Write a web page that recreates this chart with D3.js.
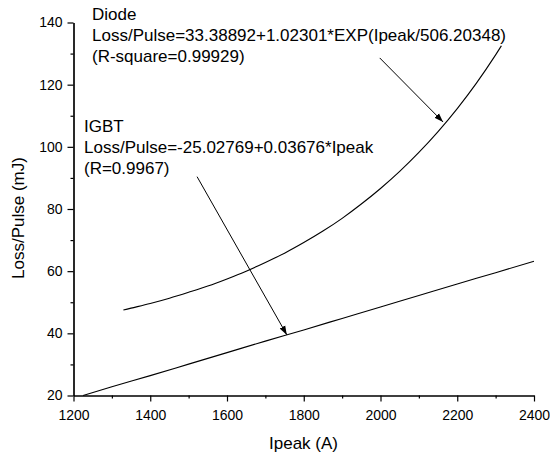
<!DOCTYPE html>
<html>
<head>
<meta charset="utf-8">
<script src="https://cdn.jsdelivr.net/npm/d3@7"></script>
<style>
  body { margin: 0; background: #fff; }
  text { font-family: "Liberation Sans", Arial, sans-serif; }
</style>
</head>
<body>
<svg id="chart" width="550" height="457"></svg>
<script>
// values
var diodeI    = [1330, 1350, 1400, 1450, 1500, 1550, 1600, 1650, 1700, 1750, 1800, 1850, 1900, 1950, 2000, 2050, 2100, 2150, 2200, 2250, 2300, 2315];
var diodeLoss = [47.5, 48.1, 49.6, 51.3, 53.2, 55.2, 57.5, 60.0, 62.8, 65.8, 69.2, 72.9, 77.0, 81.6, 86.6, 92.1, 98.2, 104.9, 112.3, 120.5, 129.6, 132.5];
var igbtI     = [1225, 1300, 1400, 1500, 1600, 1700, 1800, 1900, 2000, 2100, 2200, 2300, 2400];
var igbtLoss  = [20.0, 22.8, 26.4, 30.1, 33.8, 37.5, 41.1, 44.8, 48.5, 52.2, 55.9, 59.5, 63.2];
var xTicks = [1200, 1400, 1600, 1800, 2000, 2200, 2400];
var xMinor = [1300, 1500, 1700, 1900, 2100, 2300];
var yTicks = [20, 40, 60, 80, 100, 120, 140];
var yMinor = [30, 50, 70, 90, 110, 130];

var diodeText = ["Diode", "Loss/Pulse=33.38892+1.02301*EXP(Ipeak/506.20348)", "(R-square=0.99929)"];
var igbtText  = ["IGBT", "Loss/Pulse=-25.02769+0.03676*Ipeak", "(R=0.9967)"];
// arrows: [I start, loss start, I end, loss end]
var diodeArrow = [1998, 128.6, 2163, 108.0];
var igbtArrow  = [1522, 90.4, 1756, 39.5];

var svg = d3.select("#chart");
var x = d3.scaleLinear().domain([1200, 2400]).range([73.5, 534]);
var y = d3.scaleLinear().domain([20, 140]).range([395.5, 22.5]);

svg.append("defs").append("marker")
  .attr("id", "head")
  .attr("viewBox", "0 0 10 10")
  .attr("refX", 10).attr("refY", 5)
  .attr("markerWidth", 9).attr("markerHeight", 9)
  .attr("markerUnits", "userSpaceOnUse")
  .attr("orient", "auto")
  .append("path").attr("d", "M0,1.5 L10,5 L0,8.5 Z").attr("fill", "#000");

// axes
svg.append("g").attr("transform", "translate(0,395.5)")
  .call(d3.axisBottom(x).tickValues(xTicks).tickFormat(d3.format("d")).tickSize(6).tickPadding(9).tickSizeOuter(0));
svg.append("g").attr("transform", "translate(0,395.5)")
  .call(d3.axisBottom(x).tickValues(xMinor).tickSize(3).tickFormat("").tickSizeOuter(0));
svg.append("g").attr("transform", "translate(73.5,0)")
  .call(d3.axisLeft(y).tickValues(yTicks).tickFormat(d3.format("d")).tickSize(6).tickPadding(5).tickSizeOuter(0));
svg.append("g").attr("transform", "translate(73.5,0)")
  .call(d3.axisLeft(y).tickValues(yMinor).tickSize(3).tickFormat("").tickSizeOuter(0));

svg.selectAll(".tick text").attr("font-size", "14px").attr("fill", "#000")
  .attr("font-family", "Liberation Sans, Arial, sans-serif");
svg.selectAll(".domain, .tick line").attr("stroke", "#000").attr("stroke-width", 1.2);

// curves
var line = d3.line().x(function(d) { return x(d[0]); }).y(function(d) { return y(d[1]); });
svg.append("path")
  .datum(d3.zip(diodeI, diodeLoss))
  .attr("d", line.curve(d3.curveMonotoneX))
  .attr("fill", "none").attr("stroke", "#000").attr("stroke-width", 1.1);
svg.append("path")
  .datum(d3.zip(igbtI, igbtLoss))
  .attr("d", line)
  .attr("fill", "none").attr("stroke", "#000").attr("stroke-width", 1.1);

// arrows
[diodeArrow, igbtArrow].forEach(function(a) {
  svg.append("line")
    .attr("x1", x(a[0])).attr("y1", y(a[1]))
    .attr("x2", x(a[2])).attr("y2", y(a[3]))
    .attr("stroke", "#000").attr("stroke-width", 1)
    .attr("marker-end", "url(#head)");
});

// annotations
function block(lines, left, top) {
  svg.append("g").selectAll("text").data(lines).enter().append("text")
    .attr("x", left)
    .attr("y", function(d, i) { return top + i * 21; })
    .attr("font-size", "17px")
    .text(function(d) { return d; });
}
block(diodeText, 92, 20);
block(igbtText, 84, 132);

// axis titles
svg.append("text").attr("x", 303.5).attr("y", 449)
  .attr("text-anchor", "middle").attr("font-size", "17px").text("Ipeak (A)");
svg.append("text").attr("transform", "translate(24,218) rotate(-90)")
  .attr("text-anchor", "middle").attr("font-size", "17px").text("Loss/Pulse (mJ)");
</script>
</body>
</html>
